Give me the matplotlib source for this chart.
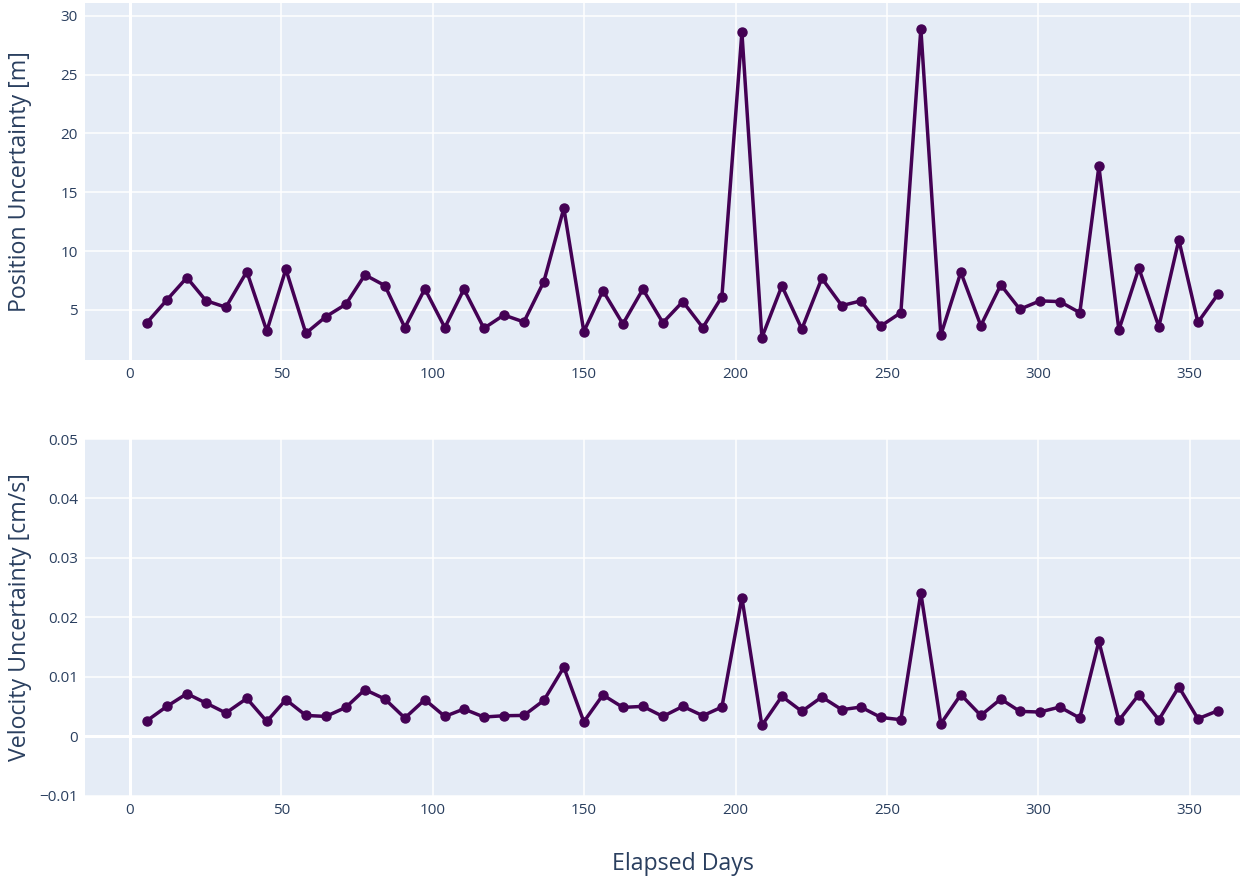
import matplotlib.pyplot as plt

# elapsed days of each solution
days = [5.6, 12.2, 18.8, 25.1, 31.7, 38.6, 45.2, 51.5, 58.1, 64.7,
        71.3, 77.6, 84.2, 90.8, 97.4, 104.0, 110.3, 116.9, 123.5, 130.1,
        136.7, 143.3, 149.9, 156.2, 162.8, 169.4, 176.0, 182.6, 189.2, 195.5,
        202.1, 208.7, 215.3, 221.9, 228.5, 235.1, 241.4, 248.0, 254.6, 261.2,
        267.8, 274.4, 281.0, 287.6, 293.9, 300.5, 307.1, 313.7, 320.0, 326.6,
        333.2, 339.8, 346.4, 352.7, 359.3]

pos_unc = [3.92, 5.85, 7.75, 5.79, 5.23, 8.26, 3.21, 8.46, 3.02, 4.43,
           5.48, 7.98, 7.07, 3.50, 6.79, 3.50, 6.76, 3.44, 4.57, 3.98,
           7.41, 13.65, 3.16, 6.64, 3.81, 6.76, 3.92, 5.71, 3.50, 6.13,
           28.6, 2.65, 7.04, 3.38, 7.69, 5.37, 5.77, 3.64, 4.77, 28.9,
           2.87, 8.20, 3.67, 7.13, 5.06, 5.77, 5.71, 4.77, 17.2, 3.30,
           8.55, 3.58, 10.95, 3.95, 6.33]

vel_unc = [0.00265, 0.00506, 0.0072, 0.00563, 0.00395, 0.0064, 0.00253, 0.00619, 0.00354, 0.00337,
           0.00489, 0.00788, 0.0063, 0.0031, 0.00619, 0.00337, 0.00462, 0.00327, 0.00349, 0.00354,
           0.00607, 0.01164, 0.00248, 0.00698, 0.00489, 0.00506, 0.00337, 0.00506, 0.00349, 0.00495,
           0.02334, 0.00186, 0.00675, 0.00422, 0.00664, 0.0045, 0.00495, 0.0032, 0.00282, 0.0241,
           0.00214, 0.00703, 0.00354, 0.0063, 0.00422, 0.00411, 0.00495, 0.0031, 0.0160, 0.0027,
           0.00703, 0.00282, 0.00833, 0.00298, 0.00433]

bg = "#E5ECF6"
txt = "#2a3f5f"
col = "#440154"
plt.rcParams['font.family'] = ['Open Sans', 'DejaVu Sans']

fig = plt.figure(figsize=(12.4, 8.81), dpi=100)
ax1 = fig.add_axes([0.0685, 0.5914, 0.9315, 0.4052])
ax2 = fig.add_axes([0.0685, 0.0965, 0.9315, 0.4052])

for ax, y in ((ax1, pos_unc), (ax2, vel_unc)):
    ax.set_facecolor(bg)
    for s in ax.spines.values():
        s.set_visible(False)
    ax.grid(True, color="white", linewidth=1.1)
    ax.set_axisbelow(True)
    ax.tick_params(length=0, labelsize=11, labelcolor=txt, pad=5)
    ax.axvline(0, color="white", linewidth=2.2, zorder=0.5)
    ax.plot(days, y, color=col, linewidth=2.5, marker="o", markersize=6.5, zorder=3)
    ax.set_xlim(-14.86, 366.6)
    ax.set_xticks([0, 50, 100, 150, 200, 250, 300, 350])

ax1.set_ylim(0.75, 31.08)
ax1.set_yticks([5, 10, 15, 20, 25, 30])
ax1.set_ylabel("Position Uncertainty [m]", fontsize=16.7, color=txt, va="center")

ax2.set_ylim(-0.01, 0.05)
ax2.set_yticks([-0.01, 0, 0.01, 0.02, 0.03, 0.04, 0.05])
ax2.set_yticklabels(["\u22120.01", "0", "0.01", "0.02", "0.03", "0.04", "0.05"])
ax2.axhline(0, color="white", linewidth=2.2, zorder=0.5)
ax2.set_ylabel("Velocity Uncertainty [cm/s]", fontsize=16.7, color=txt, va="center")

for ax in (ax1, ax2):
    ax.yaxis.set_label_coords(-0.0563, 0.5)

fig.text(0.551, 0.006, "Elapsed Days", fontsize=16.7, color=txt, ha="center", va="bottom")

fig.savefig("out.png", dpi=100)
